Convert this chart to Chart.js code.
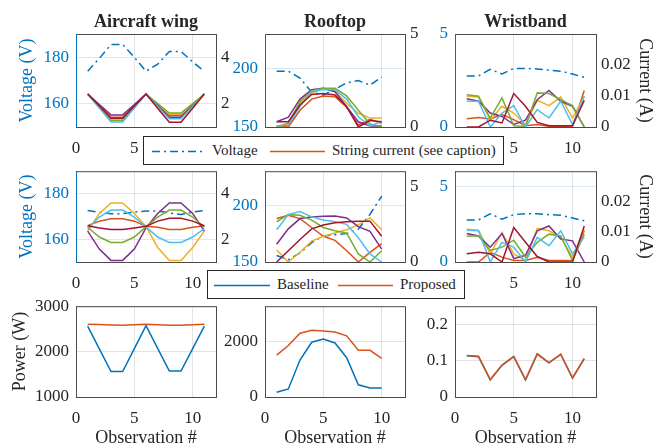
<!DOCTYPE html>
<html>
<head>
<meta charset="utf-8">
<script src="https://cdn.jsdelivr.net/npm/chart.js@4/dist/chart.umd.min.js"></script>
<style>
  body { margin: 0; width: 655px; height: 445px; overflow: hidden; position: relative; background: #fff;
         font-family: "Liberation Serif", "Times New Roman", serif; color: #262626; }
  canvas { position: absolute; }
  .legend { position: absolute; background: #fff; border: 1px solid #262626; box-sizing: border-box; z-index: 5; font-size: 15px; }
  .legend span, .legend svg { position: absolute; }
  .legend span { top: 50%; transform: translateY(-52%); white-space: nowrap; }
</style>
</head>
<body>

<div class="legend" style="left:143px;top:136px;width:361px;height:29px">
  <svg style="left:8px;top:13px" width="54" height="3"><line x1="0" y1="1.5" x2="54" y2="1.5" stroke="#0072BD" stroke-width="1.6" stroke-dasharray="8 4 2 4"/></svg>
  <span style="left:68px">Voltage</span>
  <svg style="left:126px;top:13px" width="55" height="3"><line x1="0" y1="1.5" x2="55" y2="1.5" stroke="#D95319" stroke-width="1.6"/></svg>
  <span style="left:188px">String current (see caption)</span>
</div>

<div class="legend" style="left:207px;top:270px;width:258px;height:29px">
  <svg style="left:6px;top:13px" width="56" height="3"><line x1="0" y1="1.5" x2="56" y2="1.5" stroke="#0072BD" stroke-width="1.6"/></svg>
  <span style="left:69px">Baseline</span>
  <svg style="left:130px;top:13px" width="55" height="3"><line x1="0" y1="1.5" x2="55" y2="1.5" stroke="#D95319" stroke-width="1.6"/></svg>
  <span style="left:192px">Proposed</span>
</div>

<script>
// observations
const obs11 = [1, 2, 3, 4, 5, 6, 7, 8, 9, 10, 11];
const obs10 = [1, 2, 3, 4, 5, 6, 7, 8, 9, 10];
const xTicks = [0, 5, 10];

// --- row 1: baseline voltages / string currents ---
const wingV1 = [174, 179.5, 185.5, 185.5, 180, 174, 177, 182.5, 182.5, 178, 174];
const wingI1 = [
  [2.42, 1.92, 1.42, 1.42, 1.92, 2.42, 1.96, 1.50, 1.50, 1.96, 2.42],
  [2.42, 1.86, 1.30, 1.30, 1.86, 2.42, 1.98, 1.55, 1.55, 1.98, 2.42],
  [2.42, 1.97, 1.52, 1.52, 1.97, 2.42, 1.92, 1.42, 1.42, 1.92, 2.42],
  [2.42, 1.85, 1.28, 1.28, 1.85, 2.42, 2.01, 1.60, 1.60, 2.01, 2.42],
  [2.42, 1.82, 1.22, 1.22, 1.82, 2.42, 1.88, 1.35, 1.35, 1.88, 2.42],
  [2.42, 1.90, 1.38, 1.38, 1.90, 2.42, 1.81, 1.20, 1.20, 1.81, 2.42]
];
const roofV1 = [198, 198, 192, 180, 177.5, 182.5, 188, 190, 186, 193];
const roofI1 = [
  [0.05, 0.0, 0.9, 1.5, 1.67, 1.63, 1.06, 0.11, 0.41, 0.2],
  [0.05, 0.1, 1.27, 1.81, 2.08, 1.9, 1.27, 0.74, 0.48, 0.48],
  [0.28, 0.53, 1.5, 2.0, 2.08, 1.9, 1.09, 0.28, 0.05, 0.05],
  [0.02, 0.2, 1.36, 1.95, 2.08, 2.08, 1.67, 0.9, 0.16, 0.02],
  [0.05, 0.1, 1.1, 1.9, 2.02, 2.0, 1.5, 0.55, 0.05, 0.3],
  [0.28, 0.28, 1.18, 1.75, 1.8, 1.72, 1.1, 0.0, 0.35, 0.28]
];
const wristV1 = [2.74, 2.74, 3.1, 2.85, 3.15, 3.15, 3.12, 3.05, 3.0, 2.85, 2.67];
const wristI1 = [
  [0.0027, 0.0031, 0.0026, 0.004, 0.0024, 0.0004, 0.0008, 0.0002, 0.0002, 0.0002, 0.0118],
  [0.0099, 0.0097, 0.0022, 0.0067, 0.0045, 0.0008, 0.0086, 0.0069, 0.0097, 0.0029, 0.0099],
  [0.0091, 0.0083, 0.0045, 0.0034, 0.0008, 0.0022, 0.0088, 0.0118, 0.0083, 0.0067, 0.0],
  [0.0104, 0.0099, 0.0029, 0.0094, 0.0004, 0.0002, 0.011, 0.0108, 0.0088, 0.0069, 0.0],
  [0.0083, 0.0083, 0.0, 0.0045, 0.0069, 0.0, 0.0056, 0.0029, 0.0083, 0.0008, 0.0099],
  [0.0, 0.0, 0.0022, 0.0013, 0.0108, 0.0067, 0.0015, 0.0004, 0.0004, 0.0004, 0.0086]
];

// --- row 2: proposed voltages / string currents ---
const wingV2 = [172.7, 171.9, 171.3, 171.3, 172, 172.5, 172.5, 171.6, 170.9, 172, 172.7];
const wingI2 = [
  [2.6, 2.8, 2.9, 2.9, 2.8, 2.57, 2.53, 2.43, 2.43, 2.53, 2.6],
  [2.36, 3.14, 3.6, 3.6, 3.14, 2.57, 1.64, 1.07, 1.07, 1.64, 2.36],
  [2.36, 1.57, 1.07, 1.07, 1.57, 2.5, 3.14, 3.6, 3.6, 3.14, 2.36],
  [2.53, 2.1, 1.86, 1.86, 2.1, 2.55, 2.98, 3.29, 3.29, 2.98, 2.53],
  [2.47, 2.98, 3.29, 3.29, 2.98, 2.55, 2.1, 1.86, 1.86, 2.1, 2.47],
  [2.6, 2.5, 2.43, 2.43, 2.5, 2.57, 2.8, 2.93, 2.93, 2.8, 2.6]
];
const roofV2 = [155.7, 152, 158, 167, 173, 174, 175, 179, 192, 208];
const roofI2 = [
  [2.87, 3.09, 2.87, 2.28, 1.7, 1.43, 0.74, 0.0, 0.64, 1.21],
  [0.79, 0.0, 0.64, 1.38, 1.7, 1.91, 2.13, 2.45, 2.91, 2.13],
  [1.17, 2.19, 2.87, 2.98, 3.02, 3.04, 2.91, 2.34, 2.02, 0.85],
  [2.66, 3.13, 3.09, 2.77, 2.28, 2.06, 1.91, 0.53, 0.0, 0.74],
  [2.13, 3.13, 3.34, 2.98, 2.77, 2.66, 2.49, 1.6, 0.53, 0.0],
  [0.0, 0.74, 1.49, 2.19, 2.45, 2.6, 2.66, 2.7, 2.7, 1.7]
];
const wristV2 = [2.77, 2.77, 3.19, 2.83, 3.13, 3.19, 3.19, 3.13, 3.09, 2.91, 2.72];
const wristI2 = [
  [0.0, 0.0, 0.0032, 0.0016, 0.0005, 0.0005, 0.0016, 0.0005, 0.0005, 0.0005, 0.0103],
  [0.0108, 0.0105, 0.0027, 0.0097, 0.0027, 0.0005, 0.0111, 0.0103, 0.0081, 0.0016, 0.0108],
  [0.0094, 0.0086, 0.0049, 0.0094, 0.0011, 0.0022, 0.0103, 0.0119, 0.0076, 0.007, 0.0],
  [0.0086, 0.0086, 0.0038, 0.0049, 0.0072, 0.0016, 0.0065, 0.0092, 0.0086, 0.0005, 0.0092],
  [0.0105, 0.0103, 0.0, 0.0065, 0.0049, 0.0, 0.0081, 0.0054, 0.0103, 0.0027, 0.0083],
  [0.0027, 0.0032, 0.0027, 0.0, 0.0114, 0.0065, 0.0018, 0.0, 0.0, 0.0, 0.0119]
];

// --- row 3: power ---
const wingPBase = [2560, 2060, 1560, 1560, 2065, 2570, 2070, 1570, 1570, 2065, 2560];
const wingPProp = [2600, 2595, 2585, 2580, 2590, 2600, 2590, 2580, 2580, 2590, 2600];
const roofPBase = [174, 290, 1337, 1977, 2093, 1953, 1419, 442, 326, 326];
const roofPProp = [1512, 1860, 2302, 2407, 2384, 2349, 2209, 1686, 1686, 1395];
const wristPBase = [0.1135, 0.111, 0.047, 0.087, 0.111, 0.047, 0.118, 0.094, 0.117, 0.052, 0.105];
const wristPProp = [0.1145, 0.112, 0.048, 0.088, 0.112, 0.048, 0.119, 0.095, 0.118, 0.053, 0.106];

// styling
const FONT = '"Liberation Serif", "Times New Roman", serif';
const INK = '#262626';
const BLUE = '#0072BD', ORANGE = '#D95319';
const stringColors = [ORANGE, '#EDB120', '#7E2F8E', '#77AC30', '#4DBEEE', '#A2142F'];
const GRID_X = 'rgba(38,38,38,0.13)';
const GRID_B = 'rgba(0,114,189,0.15)';
const LW = 70, RW = 60;

// box around the plot area, left spine in axis colour
const frame = {
  id: 'frame',
  afterDatasetsDraw(chart, args, opts) {
    const a = chart.chartArea, c = chart.ctx;
    c.save();
    c.lineWidth = 1;
    c.strokeStyle = '#4a4a4a';
    c.strokeRect(a.left + 0.5, a.top + 0.5, a.right - a.left, a.bottom - a.top);
    c.strokeStyle = opts.left || '#4a4a4a';
    c.beginPath();
    c.moveTo(a.left + 0.5, a.top);
    c.lineTo(a.left + 0.5, a.bottom + 1);
    c.stroke();
    c.restore();
  }
};

function pts(xs, ys) { return xs.map((x, i) => ({ x: x, y: ys[i] })); }
function tickFix(list) { return s => { s.ticks = list.map(v => ({ value: v })); }; }

function panel(p) {
  const cv = document.createElement('canvas');
  const rightW = p.yR ? RW : 0;
  const w = LW + p.w + RW, h = p.top + p.h + p.bottom;
  cv.width = w; cv.height = h;
  cv.style.left = (p.x - LW) + 'px'; cv.style.top = (p.y - p.top) + 'px';
  cv.style.width = w + 'px'; cv.style.height = h + 'px';
  document.body.appendChild(cv);

  const tickFont = { family: FONT, size: 17 };
  const labFont = { family: FONT, size: 18 };
  const scales = {
    x: {
      type: 'linear', min: 0, max: 12,
      afterBuildTicks: tickFix(xTicks),
      afterFit: s => { s.height = p.bottom; },
      grid: { color: GRID_X, drawTicks: false },
      border: { display: false },
      ticks: { font: tickFont, color: INK, padding: 11, maxRotation: 0, callback: v => String(v) },
      title: p.xTitle ? { display: true, text: p.xTitle, font: labFont, color: INK, padding: { top: 0, bottom: 1 } } : { display: false }
    },
    yL: {
      position: 'left', min: p.yL.min, max: p.yL.max,
      afterBuildTicks: tickFix(p.yL.ticks),
      afterFit: s => { s.width = LW; },
      grid: { color: p.yL.color === BLUE ? GRID_B : GRID_X, drawTicks: false },
      border: { display: false },
      ticks: { font: tickFont, color: p.yL.color, padding: 7, callback: v => String(v) },
      title: p.yL.title ? { display: true, text: p.yL.title, font: labFont, color: p.yL.color, padding: { top: p.yL.tpad, bottom: 0 } } : { display: false }
    }
  };
  if (p.yR) {
    scales.yR = {
      position: 'right', min: p.yR.min, max: p.yR.max,
      afterBuildTicks: tickFix(p.yR.ticks),
      afterFit: s => { s.width = RW; },
      grid: { display: false, drawTicks: false },
      border: { display: false },
      ticks: { font: tickFont, color: INK, padding: 5, callback: v => String(v) },
      title: p.yR.title ? { display: true, text: p.yR.title, font: labFont, color: INK, padding: { top: 0, bottom: 0 } } : { display: false }
    };
  }

  new Chart(cv, {
    type: 'line',
    data: { datasets: p.datasets },
    options: {
      responsive: false, animation: false, devicePixelRatio: 1,
      layout: { padding: { top: p.title ? 0 : p.top, right: RW - rightW, left: 0, bottom: 0 } },
      elements: { point: { radius: 0 }, line: { borderWidth: 1.5, tension: 0 } },
      plugins: {
        legend: { display: false },
        tooltip: { enabled: false },
        frame: { left: p.yL.color === BLUE ? BLUE : '#4a4a4a' },
        title: p.title ? {
          display: true, text: p.title, fullSize: false, color: INK,
          font: { family: FONT, size: 18, weight: 'bold' },
          padding: { top: 12, bottom: p.top - 12 - 21.6 }
        } : { display: false }
      },
      scales: scales
    },
    plugins: [frame]
  });
}

// later strings sit on top (chart.js draws dataset 0 last)
function voltAndStrings(obs, volt, strings) {
  const ds = strings.map((s, i) => ({ data: pts(obs, s), borderColor: stringColors[i], yAxisID: 'yR', fill: false })).reverse();
  ds.push({ data: pts(obs, volt), borderColor: BLUE, borderDash: [8, 4, 2, 4], yAxisID: 'yL', fill: false });
  return ds;
}
function power(obs, base, prop) {
  return [
    { data: pts(obs, prop), borderColor: ORANGE, yAxisID: 'yL', fill: false },
    { data: pts(obs, base), borderColor: BLUE, yAxisID: 'yL', fill: false }
  ];
}

const colX = [76, 265, 455], colW = [140, 140, 141];
const rowY = [34, 168, 303], rowH = [93, 94, 94];

// row 1
panel({ x: colX[0], w: colW[0], y: rowY[0], h: rowH[0], top: 34, bottom: 32, title: 'Aircraft wing',
  yL: { min: 150, max: 190, ticks: [160, 180], color: BLUE, title: 'Voltage (V)', tpad: 10 },
  yR: { min: 1, max: 5, ticks: [2, 4] },
  datasets: voltAndStrings(obs11, wingV1, wingI1) });
panel({ x: colX[1], w: colW[1], y: rowY[0], h: rowH[0], top: 34, bottom: 32, title: 'Rooftop',
  yL: { min: 150, max: 230, ticks: [150, 200], color: BLUE },
  yR: { min: 0, max: 5, ticks: [0, 5] },
  datasets: voltAndStrings(obs10, roofV1, roofI1) });
panel({ x: colX[2], w: colW[2], y: rowY[0], h: rowH[0], top: 34, bottom: 32, title: 'Wristband',
  yL: { min: 0, max: 5, ticks: [0, 5], color: BLUE },
  yR: { min: 0, max: 0.03, ticks: [0, 0.01, 0.02], title: 'Current (A)' },
  datasets: voltAndStrings(obs11, wristV1, wristI1) });

// row 2
panel({ x: colX[0], w: colW[0], y: rowY[1], h: rowH[1], top: 14, bottom: 32,
  yL: { min: 150, max: 190, ticks: [160, 180], color: BLUE, title: 'Voltage (V)', tpad: 10 },
  yR: { min: 1, max: 5, ticks: [2, 4] },
  datasets: voltAndStrings(obs11, wingV2, wingI2) });
panel({ x: colX[1], w: colW[1], y: rowY[1], h: rowH[1], top: 14, bottom: 32,
  yL: { min: 150, max: 230, ticks: [150, 200], color: BLUE },
  yR: { min: 0, max: 6, ticks: [0, 5] },
  datasets: voltAndStrings(obs10, roofV2, roofI2) });
panel({ x: colX[2], w: colW[2], y: rowY[1], h: rowH[1], top: 14, bottom: 32,
  yL: { min: 0, max: 6, ticks: [0, 5], color: BLUE },
  yR: { min: 0, max: 0.03, ticks: [0, 0.01, 0.02], title: 'Current (A)' },
  datasets: voltAndStrings(obs11, wristV2, wristI2) });

// row 3
panel({ x: colX[0], w: colW[0], y: rowY[2], h: rowH[2], top: 14, bottom: 53, xTitle: 'Observation #',
  yL: { min: 1000, max: 3000, ticks: [1000, 2000, 3000], color: INK, title: 'Power (W)', tpad: 3 },
  datasets: power(obs11, wingPBase, wingPProp) });
panel({ x: colX[1], w: colW[1], y: rowY[2], h: rowH[2], top: 14, bottom: 53, xTitle: 'Observation #',
  yL: { min: 0, max: 3280, ticks: [0, 2000], color: INK },
  datasets: power(obs10, roofPBase, roofPProp) });
panel({ x: colX[2], w: colW[2], y: rowY[2], h: rowH[2], top: 14, bottom: 53, xTitle: 'Observation #',
  yL: { min: 0, max: 0.25, ticks: [0, 0.1, 0.2], color: INK },
  datasets: power(obs11, wristPBase, wristPProp) });
</script>
</body>
</html>
